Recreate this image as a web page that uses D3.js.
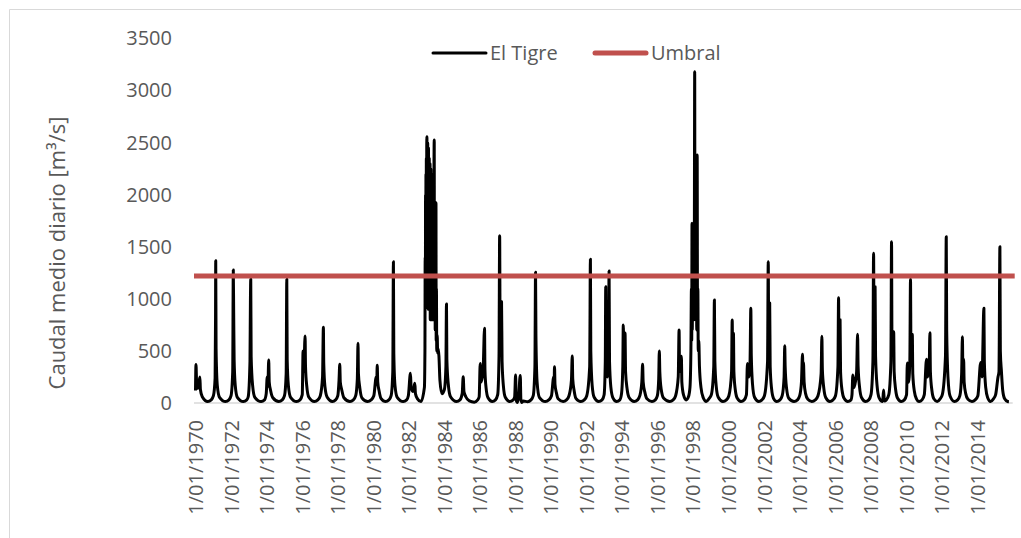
<!DOCTYPE html>
<html>
<head>
<meta charset="utf-8">
<script src="https://cdn.jsdelivr.net/npm/d3@7"></script>
<style>
  html, body { margin: 0; padding: 0; background: #fff; }
  svg { display: block; font-family: "Open Sans", sans-serif; }
</style>
</head>
<body>
<svg id="chart" width="1021" height="538"></svg>
<script>
// Daily mean flow at El Tigre, key points of each hydrological year [date, m3/s]
const flow1970s = [
  ["1970-01-01",120],["1970-01-11",370],["1970-01-25",180],["1970-02-20",140],["1970-04-01",250],["1970-04-12",130],["1970-05-20",60],["1970-09-10",14],["1970-11-20",30],
  ["1971-01-05",70],["1971-02-08",240],["1971-02-17",816],["1971-02-21",1366],["1971-02-28",520],["1971-03-25",170],["1971-05-10",55],["1971-09-10",14],["1971-11-20",30],
  ["1972-01-02",70],["1972-02-05",300],["1972-02-17",1277],["1972-02-25",864],["1972-03-05",420],["1972-03-28",170],["1972-05-10",55],["1972-09-10",14],["1972-11-20",30],
  ["1972-12-20",60],["1973-01-25",400],["1973-02-03",973],["1973-02-10",1188],["1973-02-18",450],["1973-03-20",170],["1973-05-05",55],["1973-09-10",14],["1973-11-20",30],
  ["1973-12-25",90],["1974-01-15",250],["1974-01-28",160],["1974-02-14",413],["1974-02-25",200],["1974-03-25",120],["1974-05-10",50],["1974-09-10",14],["1974-11-20",30],
  ["1975-01-05",70],["1975-02-08",280],["1975-02-21",1188],["1975-03-01",420],["1975-03-25",170],["1975-05-10",55],["1975-09-10",14],["1975-11-20",30],
  ["1976-01-05",80],["1976-01-22",500],["1976-02-05",300],["1976-03-03",643],["1976-03-12",350],["1976-04-05",170],["1976-05-20",55],["1976-09-10",14],["1976-11-20",30],
  ["1977-01-10",70],["1977-02-25",250],["1977-03-14",727],["1977-03-22",380],["1977-04-15",160],["1977-06-01",55],["1977-09-15",14],["1977-11-20",30],
  ["1978-01-05",70],["1978-01-30",220],["1978-02-14",371],["1978-02-25",200],["1978-03-25",130],["1978-05-10",50],["1978-09-10",14],["1978-11-20",30],
  ["1979-01-08",70],["1979-02-10",230],["1979-02-24",573],["1979-03-05",280],["1979-04-01",150],["1979-05-15",50],["1979-09-10",14],["1979-11-20",30]
];

const flow1980s = [
  ["1980-01-15",70],["1980-03-05",250],["1980-03-15",180],["1980-03-25",362],["1980-04-05",200],["1980-05-01",120],["1980-06-10",45],["1980-09-15",14],["1980-11-20",30],
  ["1981-01-05",70],["1981-02-08",300],["1981-02-21",1357],["1981-03-01",480],["1981-03-25",170],["1981-05-10",55],["1981-09-10",14],["1981-11-20",30],
  ["1981-12-25",70],["1982-02-06",285],["1982-02-20",150],["1982-04-01",110],["1982-05-07",190],["1982-05-20",90],["1982-07-01",40],["1982-09-10",14],
  // 1982-83 flood season
  ["1982-11-20",150],["1982-12-01",500],["1982-12-06",1400],["1982-12-10",900],["1982-12-14",2000],["1982-12-18",1100],["1982-12-22",2200],["1982-12-26",1000],
  ["1982-12-30",2350],["1983-01-03",1100],["1983-01-07",2450],["1983-01-11",2557],["1983-01-15",1200],["1983-01-19",2400],["1983-01-23",1000],["1983-01-27",2500],
  ["1983-01-31",1100],["1983-02-04",2300],["1983-02-08",900],["1983-02-12",2450],["1983-02-16",1000],["1983-02-20",2200],["1983-02-24",900],["1983-02-28",2350],
  ["1983-03-04",1000],["1983-03-08",2100],["1983-03-12",900],["1983-03-16",2300],["1983-03-20",800],["1983-03-24",2000],["1983-03-28",900],["1983-04-01",2250],
  ["1983-04-05",800],["1983-04-09",2050],["1983-04-13",900],["1983-04-17",2200],["1983-04-21",800],["1983-04-25",1950],["1983-04-29",900],["1983-05-03",2100],
  ["1983-05-07",800],["1983-05-11",1900],["1983-05-15",900],["1983-05-19",2050],["1983-05-23",800],["1983-05-27",1900],["1983-05-31",900],["1983-06-04",2100],
  ["1983-06-10",2525],["1983-06-14",900],["1983-06-18",1900],["1983-06-22",800],["1983-06-26",1800],["1983-06-30",700],["1983-07-04",1750],["1983-07-08",700],
  ["1983-07-12",1600],["1983-07-16",1923],["1983-07-20",600],["1983-07-25",1100],["1983-08-01",500],["1983-08-10",650],["1983-08-20",480],["1983-09-01",520],
  ["1983-09-15",450],["1983-10-05",220],["1983-11-15",90],
  ["1984-01-05",130],["1984-02-05",350],["1984-02-17",951],["1984-02-25",420],["1984-03-25",180],["1984-05-10",60],["1984-09-10",14],["1984-11-20",30],
  ["1985-01-05",90],["1985-01-26",253],["1985-02-10",110],["1985-03-20",60],["1985-06-01",20],["1985-09-10",8],["1985-11-20",30],
  ["1985-12-20",60],["1986-01-11",380],["1986-01-25",200],["1986-03-10",300],["1986-04-09",717],["1986-04-18",320],["1986-05-10",150],["1986-06-20",50],["1986-09-15",14],["1986-11-20",30],
  ["1987-01-05",80],["1987-02-01",450],["1987-02-14",1607],["1987-02-25",500],["1987-03-25",973],["1987-04-05",400],["1987-05-01",170],["1987-06-10",55],["1987-09-10",14],["1987-11-20",30],
  ["1987-12-20",60],["1988-01-08",269],["1988-01-20",30],["1988-02-15",5],["1988-03-10",60],["1988-04-13",265],["1988-04-25",40],["1988-05-15",5],["1988-06-15",20],["1988-09-10",12],["1988-11-20",30],
  ["1989-01-05",70],["1989-02-08",350],["1989-02-21",1255],["1989-03-01",650],["1989-03-25",200],["1989-05-10",55],["1989-09-10",14],["1989-11-20",30]
];

const flow1990s = [
  ["1990-01-15",70],["1990-03-01",250],["1990-03-10",180],["1990-03-18",349],["1990-03-28",180],["1990-04-25",100],["1990-06-01",40],["1990-09-10",14],["1990-11-20",30],
  ["1991-01-10",70],["1991-03-01",220],["1991-03-18",451],["1991-03-28",230],["1991-04-25",120],["1991-06-01",45],["1991-09-10",14],["1991-11-20",30],
  ["1992-01-10",70],["1992-03-10",350],["1992-03-25",1380],["1992-04-02",500],["1992-04-30",170],["1992-06-10",55],["1992-09-10",14],["1992-11-20",30],
  ["1993-01-01",80],["1993-01-25",400],["1993-02-03",1117],["1993-02-12",350],["1993-03-10",250],["1993-04-01",500],["1993-04-13",1267],["1993-04-22",400],["1993-05-20",150],["1993-07-01",50],["1993-09-15",14],["1993-11-20",30],
  ["1993-12-25",90],["1994-01-20",350],["1994-01-30",749],["1994-02-12",400],["1994-03-07",672],["1994-03-18",300],["1994-04-20",130],["1994-06-01",50],["1994-09-10",14],["1994-11-20",30],
  ["1995-01-05",70],["1995-02-15",200],["1995-03-03",371],["1995-03-15",200],["1995-04-20",100],["1995-06-01",40],["1995-09-10",14],["1995-11-20",30],
  ["1996-01-01",70],["1996-01-28",230],["1996-02-10",499],["1996-02-20",300],["1996-03-20",130],["1996-05-10",45],["1996-09-10",14],["1996-11-20",30],
  ["1997-01-10",70],["1997-03-05",250],["1997-03-22",701],["1997-04-01",300],["1997-05-08",450],["1997-05-18",200],["1997-06-20",80],["1997-08-15",30],["1997-10-01",60],
  // 1997-98 flood season
  ["1997-11-01",150],["1997-11-20",500],["1997-12-01",1100],["1997-12-07",600],["1997-12-13",1725],["1997-12-19",700],["1997-12-25",1500],["1997-12-31",800],
  ["1998-01-06",1600],["1998-01-12",900],["1998-01-18",1700],["1998-01-24",800],["1998-01-30",1500],["1998-02-06",3181],["1998-02-12",1000],["1998-02-18",1700],
  ["1998-02-24",800],["1998-03-02",1600],["1998-03-08",900],["1998-03-14",1500],["1998-03-20",700],["1998-03-29",2381],["1998-04-05",800],["1998-04-12",1100],
  ["1998-04-20",500],["1998-05-01",600],["1998-05-15",350],["1998-06-15",150],["1998-08-01",50],["1998-10-01",14],["1998-11-25",40],
  ["1999-01-15",80],["1999-03-05",350],["1999-03-18",989],["1999-03-28",400],["1999-04-25",160],["1999-06-05",55],["1999-09-10",14],["1999-11-20",30]
];

const flow2000s = [
  ["2000-01-10",70],["2000-03-05",300],["2000-03-18",797],["2000-03-28",450],["2000-04-13",670],["2000-04-22",300],["2000-05-20",130],["2000-07-01",45],["2000-09-15",14],["2000-11-20",30],
  ["2001-01-05",80],["2001-01-26",380],["2001-02-20",250],["2001-03-20",400],["2001-04-05",909],["2001-04-15",450],["2001-05-10",180],["2001-06-20",55],["2001-09-15",14],["2001-11-20",30],
  ["2002-01-10",70],["2002-03-15",400],["2002-03-29",1357],["2002-04-08",600],["2002-04-28",960],["2002-05-08",350],["2002-06-05",140],["2002-07-15",45],["2002-09-20",14],["2002-11-25",30],
  ["2003-01-10",70],["2003-02-18",250],["2003-03-03",550],["2003-03-12",350],["2003-04-10",140],["2003-05-25",45],["2003-09-10",14],["2003-11-20",30],
  ["2004-01-05",70],["2004-02-10",200],["2004-03-03",467],["2004-03-12",250],["2004-03-22",390],["2004-04-05",200],["2004-05-05",90],["2004-06-20",35],["2004-09-10",14],["2004-11-20",30],
  ["2005-01-15",70],["2005-03-20",280],["2005-04-05",640],["2005-04-15",320],["2005-05-15",140],["2005-06-25",50],["2005-09-15",14],["2005-11-20",30],
  ["2006-01-10",70],["2006-03-01",350],["2006-03-14",1011],["2006-03-24",500],["2006-04-14",800],["2006-04-24",300],["2006-05-25",120],["2006-07-05",45],["2006-09-20",14],["2006-11-25",30],
  ["2006-12-15",80],["2007-01-02",270],["2007-01-25",150],["2007-03-20",300],["2007-04-09",659],["2007-04-20",350],["2007-05-20",150],["2007-07-01",50],["2007-09-20",14],["2007-11-25",30],
  ["2008-01-10",80],["2008-02-18",400],["2008-03-03",1437],["2008-03-12",700],["2008-04-03",1117],["2008-04-13",450],["2008-05-15",160],["2008-06-25",50],["2008-09-05",14],["2008-09-25",125],["2008-10-10",20],["2008-11-20",30],
  ["2009-01-10",80],["2009-02-22",400],["2009-03-07",1549],["2009-03-16",600],["2009-04-20",685],["2009-04-30",300],["2009-05-30",130],["2009-07-10",45],["2009-09-20",14],["2009-11-25",30]
];

const flow2010s = [
  ["2010-01-10",80],["2010-01-26",384],["2010-02-20",200],["2010-03-18",400],["2010-04-01",1188],["2010-04-10",550],["2010-05-08",660],["2010-05-18",280],["2010-06-20",110],["2010-08-01",40],["2010-09-25",14],["2010-11-25",30],
  ["2011-01-10",80],["2011-02-24",420],["2011-03-15",250],["2011-04-20",350],["2011-05-05",675],["2011-05-15",300],["2011-06-15",120],["2011-07-25",40],["2011-10-01",14],["2011-12-01",40],
  ["2012-01-15",80],["2012-03-20",450],["2012-04-05",1597],["2012-04-14",700],["2012-05-10",250],["2012-06-20",70],["2012-09-20",14],["2012-11-25",30],
  ["2013-01-10",70],["2013-02-15",280],["2013-03-03",637],["2013-03-12",350],["2013-03-28",420],["2013-04-08",200],["2013-05-10",90],["2013-06-25",35],["2013-09-15",14],["2013-11-20",30],
  ["2014-01-15",70],["2014-03-14",390],["2014-04-10",250],["2014-05-19",909],["2014-05-28",400],["2014-06-25",150],["2014-08-05",50],["2014-10-01",14],["2014-12-01",40],
  ["2015-01-15",80],["2015-03-05",250],["2015-03-25",300],["2015-04-13",1501],["2015-04-22",500],["2015-05-15",300],["2015-06-10",120],["2015-07-20",40],["2015-09-20",14],["2015-10-15",12]
];

// Flood threshold (m3/s)
const umbral = 1220;

const seriesNames = ["El Tigre", "Umbral"];
const seriesColors = ["#000000", "#C0504D"];
const yTicks = [0, 500, 1000, 1500, 2000, 2500, 3000, 3500];
const xTickYears = [1970, 1972, 1974, 1976, 1978, 1980, 1982, 1984, 1986, 1988, 1990, 1992,
                    1994, 1996, 1998, 2000, 2002, 2004, 2006, 2008, 2010, 2012, 2014];
const axisStart = "1970-01-01";
const axisEnd = "2016-01-01";
const yTitle = "Caudal medio diario [m³/s]";

const parse = d3.utcParse("%Y-%m-%d");
const series = [].concat(flow1970s, flow1980s, flow1990s, flow2000s, flow2010s)
  .map(([d, v]) => ({ date: parse(d), value: v }));

const svg = d3.select("#chart");
const textColor = "#595959";
const fontSize = "20px";

const x = d3.scaleUtc()
  .domain([parse(axisStart), parse(axisEnd)])
  .range([195.5, 1012.7]);

const y = d3.scaleLinear()
  .domain([0, 3500])
  .range([403, 38.5]);

// Chart frame (left and top edges)
svg.append("path")
  .attr("d", "M9.5,538 L9.5,9.5 L1021,9.5")
  .attr("fill", "none")
  .attr("stroke", "#D9D9D9")
  .attr("stroke-width", 1);

// Y axis labels
const yAxis = d3.axisLeft(y).tickValues(yTicks).tickFormat(d3.format("d")).tickSize(0).tickPadding(0);
const gy = svg.append("g").attr("transform", "translate(172,0)").call(yAxis);
gy.select(".domain").remove();
gy.selectAll("text")
  .attr("fill", textColor)
  .style("font-size", fontSize)
  .style("font-family", "'Open Sans', sans-serif");

// X axis
const xAxis = d3.axisBottom(x)
  .tickValues(xTickYears.map(yr => Date.UTC(yr, 0, 1)))
  .tickFormat(d => `1/01/${new Date(d).getUTCFullYear()}`)
  .tickSize(0);
const gx = svg.append("g").attr("transform", "translate(0,403)").call(xAxis);
gx.select(".domain")
  .attr("d", `M${x.range()[0] - 1.5},0H${x.range()[1]}`)
  .attr("stroke", "#D9D9D9")
  .attr("stroke-width", 1.5);
gx.selectAll("text")
  .attr("fill", textColor)
  .style("font-size", fontSize)
  .style("font-family", "'Open Sans', sans-serif")
  .attr("text-anchor", "end")
  .attr("dy", "0.35em")
  .attr("transform", "translate(0,17) rotate(-90)")
  .attr("x", 0)
  .attr("y", 0);

// Flow series
const line = d3.line()
  .x(d => x(d.date))
  .y(d => y(d.value))
  .curve(d3.curveMonotoneX);

svg.append("path")
  .datum(series)
  .attr("fill", "none")
  .attr("stroke", seriesColors[0])
  .attr("stroke-width", 3)
  .attr("stroke-linejoin", "round")
  .attr("d", line);

// Threshold line
svg.append("line")
  .attr("x1", x.range()[0] - 1.5)
  .attr("x2", x.range()[1] + 2)
  .attr("y1", y(umbral))
  .attr("y2", y(umbral))
  .attr("stroke", seriesColors[1])
  .attr("stroke-width", 5);

// Y axis title
svg.append("text")
  .attr("transform", "translate(57,253) rotate(-90)")
  .attr("text-anchor", "middle")
  .attr("dy", "0.35em")
  .attr("fill", textColor)
  .style("font-size", "22px")
  .text(yTitle);

// Legend
const legend = svg.append("g");
const legendItems = [
  { name: seriesNames[0], color: seriesColors[0], width: 3, x1: 433, x2: 486, tx: 490 },
  { name: seriesNames[1], color: seriesColors[1], width: 5, x1: 595, x2: 646, tx: 651 }
];
legendItems.forEach(it => {
  legend.append("line")
    .attr("x1", it.x1).attr("x2", it.x2)
    .attr("y1", 53).attr("y2", 53)
    .attr("stroke", it.color)
    .attr("stroke-width", it.width)
    .attr("stroke-linecap", "round");
  legend.append("text")
    .attr("x", it.tx).attr("y", 53)
    .attr("dy", "0.35em")
    .attr("fill", textColor)
    .style("font-size", fontSize)
    .text(it.name);
});
</script>
</body>
</html>
